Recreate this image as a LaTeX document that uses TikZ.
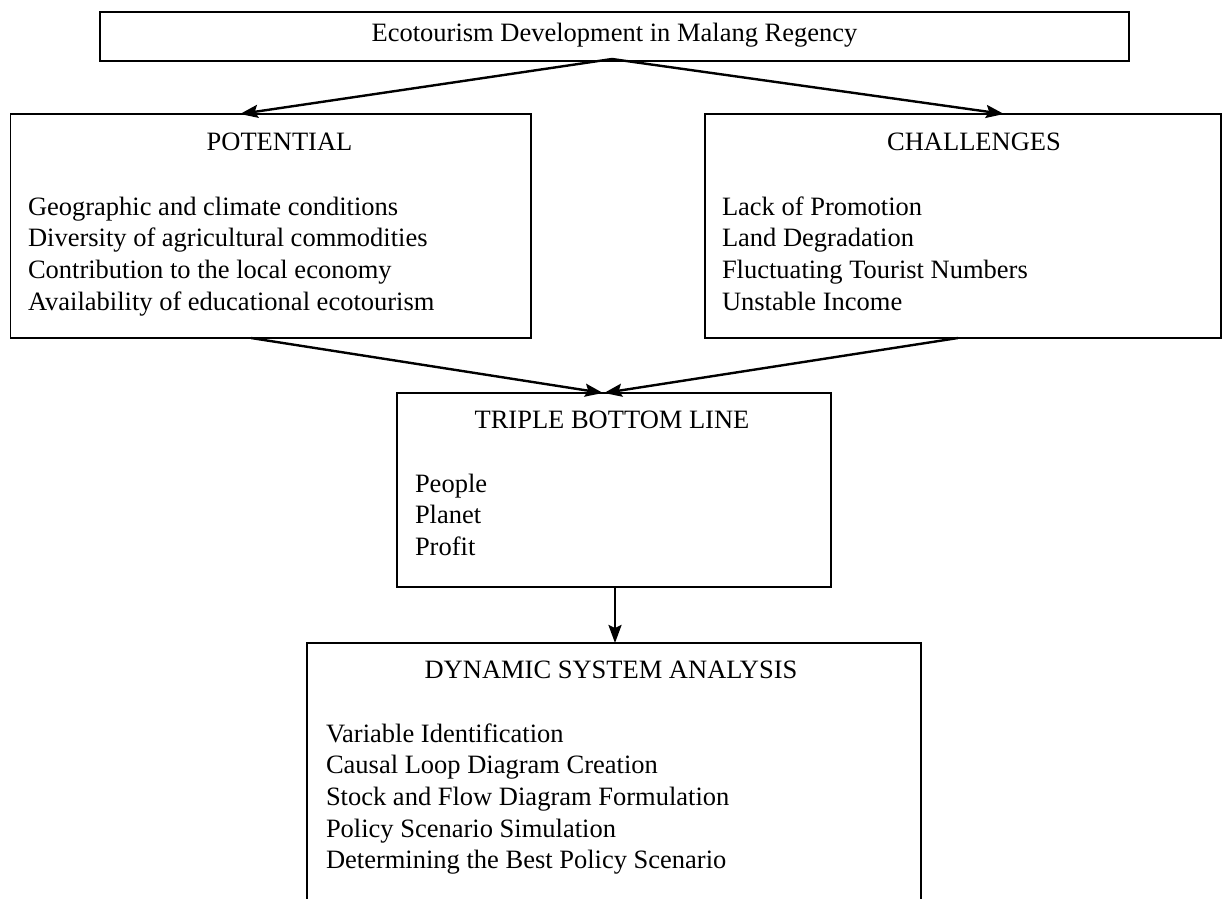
\documentclass[tikz,border=0pt]{standalone}
\usepackage{fontspec}
\setmainfont{Liberation Serif}
\usetikzlibrary{arrows.meta}
\begin{document}
\begin{tikzpicture}[x=1pt,y=-1pt,
  box/.style={draw=black, line width=1.8pt, inner sep=0pt, outer sep=0pt},
  txt/.style={inner sep=0pt, outer sep=0pt, font=\fontsize{26.5}{31.7}\selectfont},
  head/.style={txt, anchor=base},
  item/.style={txt, anchor=base west},
  arr/.style={line width=2.4pt, -{Stealth[length=18pt,width=13pt,inset=3pt]}}]
\clip (0,0) rectangle (1223,899);
\fill[white] (0,0) rectangle (1223,899);

% boxes
\node[box, minimum width=1029pt, minimum height=49pt] (top) at (614.5,36.5) {};
\node[box, minimum width=520.5pt, minimum height=224pt] (pot) at (270.75,226) {};
\node[box, minimum width=516pt, minimum height=224pt] (cha) at (963,226) {};
\node[box, minimum width=434pt, minimum height=194pt] (tbl) at (614,490) {};
\node[box, minimum width=614pt, minimum height=277pt] (dsa) at (614,781.5) {};

% texts
\node[head] (toptxt) at (614.5,42) {Ecotourism Development in Malang Regency};

\node[head] (pothead) at (279.5,150) {POTENTIAL};
\foreach \t [count=\i] in {Geographic and climate conditions,
  Diversity of agricultural commodities,
  Contribution to the local economy,
  Availability of educational ecotourism}
  \node[item] (p\i) at (28,{183.3+31.7*\i}) {\t};

\node[head] (chahead) at (974,150) {CHALLENGES};
\foreach \t [count=\i] in {Lack of Promotion,
  Land Degradation,
  Fluctuating Tourist Numbers,
  Unstable Income}
  \node[item] (c\i) at (722,{183.3+31.7*\i}) {\t};

\node[head] (tblhead) at (612,428) {TRIPLE BOTTOM LINE};
\foreach \t [count=\i] in {People, Planet, Profit}
  \node[item] (t\i) at (415,{460.3+31.7*\i}) {\t};

\node[head] (dsahead) at (611,678) {DYNAMIC SYSTEM ANALYSIS};
\foreach \t [count=\i] in {Variable Identification,
  Causal Loop Diagram Creation,
  Stock and Flow Diagram Formulation,
  Policy Scenario Simulation,
  Determining the Best Policy Scenario}
  \node[item] (d\i) at (326,{710.3+31.7*\i}) {\t};

% connectors
\draw[arr] ([xshift=-2.5pt,yshift=2pt]top.south) -- ([xshift=-30.75pt]pot.north);
\draw[arr] ([xshift=-2.5pt,yshift=2pt]top.south) -- ([xshift=41pt]cha.north);
\draw[arr] ([xshift=-19.75pt]pot.south) -- ([xshift=-11pt]tbl.north);
\draw[arr] ([xshift=-5pt]cha.south) -- ([xshift=-10pt]tbl.north);
\draw[arr] ([xshift=1pt]tbl.south) -- ([xshift=1pt]dsa.north);
\end{tikzpicture}
\end{document}
